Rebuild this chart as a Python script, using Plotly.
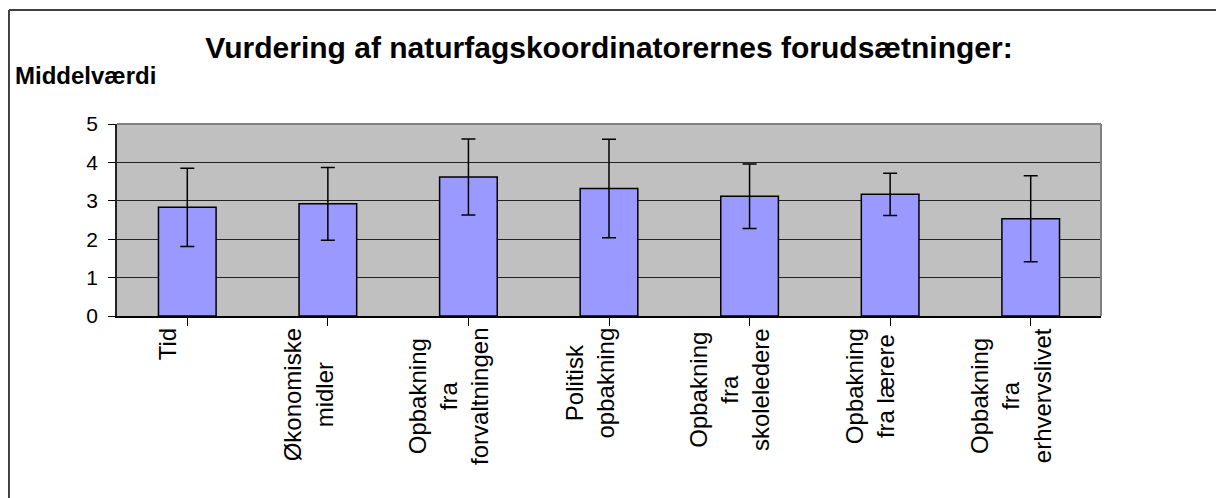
import plotly.graph_objects as go

categories = ["Tid", "Økonomiske<br>midler", "Opbakning<br>fra<br>forvaltningen",
              "Politisk<br>opbakning", "Opbakning<br>fra<br>skoleledere",
              "Opbakning<br>fra lærere", "Opbakning<br>fra<br>erhvervslivet"]
means = [2.83, 2.92, 3.62, 3.32, 3.12, 3.17, 2.53]
errors = [1.02, 0.95, 0.99, 1.28, 0.84, 0.55, 1.12]
y_ticks = [0, 1, 2, 3, 4, 5]
title_text = "Vurdering af naturfagskoordinatorernes forudsætninger:"
y_label = "Middelværdi"

FONT = "Liberation Sans, Arial, sans-serif"
xpos = list(range(len(categories)))

fig = go.Figure()
fig.add_trace(go.Bar(
    x=xpos, y=means,
    marker=dict(color="#9999FF", line=dict(color="black", width=1.5)),
    error_y=dict(type="data", array=errors, visible=True, color="black",
                 thickness=1.5, width=7),
    width=0.41,
))

annotations = []
for i, c in enumerate(categories):
    annotations.append(dict(
        x=i, xref="x", y=0, yref="paper", yanchor="top", xanchor="center",
        yshift=-10, xshift=-20, text=c, textangle=-90, align="center",
        showarrow=False, font=dict(family=FONT, size=24, color="black")))
annotations.append(dict(
    x=-0.1057, xref="paper", y=1.255, yref="paper", xanchor="left", yanchor="middle",
    text="<b>" + y_label + "</b>", showarrow=False,
    font=dict(family=FONT, size=24, color="black")))

shapes = [
    # outer chart border (left + top)
    dict(type="line", xref="paper", yref="paper", x0=-0.1098, x1=-0.1098,
         y0=-1.0, y1=1.59375, line=dict(color="#404040", width=2)),
    dict(type="line", xref="paper", yref="paper", x0=-0.1098, x1=1.2,
         y0=1.59375, y1=1.59375, line=dict(color="#404040", width=2)),
    # plot area border top + right
    dict(type="line", xref="paper", yref="paper", x0=0, x1=1, y0=1, y1=1,
         line=dict(color="#808080", width=2)),
    dict(type="line", xref="paper", yref="paper", x0=1, x1=1, y0=0, y1=1,
         line=dict(color="#808080", width=2)),
]

fig.update_layout(
    width=1216, height=490,
    margin=dict(l=109, r=123, t=116, b=182),
    paper_bgcolor="white", plot_bgcolor="#C0C0C0",
    showlegend=False,
    title=dict(text="<b>" + title_text + "</b>", x=0.5, xref="paper", xanchor="center",
               y=1 - 39 / 490, yref="container", yanchor="middle",
               font=dict(family=FONT, size=30, color="black")),
    annotations=annotations,
    shapes=shapes,
    bargap=0.59,
)
fig.update_xaxes(
    range=[-0.5, len(categories) - 0.5], tickmode="array", tickvals=xpos,
    ticktext=["" for _ in categories], tickson="boundaries",
    ticks="outside", ticklen=8, tickcolor="black", tickwidth=1,
    showline=True, linecolor="black", linewidth=1.5, showgrid=False,
    zeroline=False,
)
fig.update_yaxes(
    range=[0, 5], tickmode="array", tickvals=y_ticks,
    ticks="outside", ticklen=7, tickcolor="black", tickwidth=1,
    showline=True, linecolor="#202020", linewidth=1.5,
    showgrid=True, gridcolor="#222222", gridwidth=1, zeroline=False,
    tickfont=dict(family=FONT, size=21, color="black"), ticklabelstandoff=6,
)

fig.write_html("out.html")
